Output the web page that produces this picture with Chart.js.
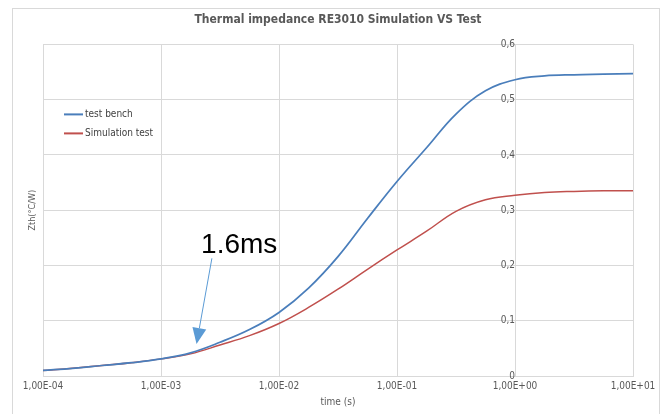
<!DOCTYPE html>
<html>
<head>
<meta charset="utf-8">
<script src="https://cdn.jsdelivr.net/npm/chart.js@4.4.1/dist/chart.umd.min.js"></script>
<style>
  body { margin: 0; background: #fff; }
  #frame { position: absolute; left: 12px; top: 8px; width: 646px; height: 420px; border: 1px solid #d9d9d9; }
  canvas { position: absolute; left: 0; top: 0; }
</style>
</head>
<body>
<div id="frame"></div>
<canvas id="zthChart" width="662" height="414"></canvas>
<script>
// time base (s), quarter decades
const timeSeconds = [1e-4, 1.78e-4, 3.16e-4, 5.62e-4, 1e-3, 1.78e-3, 3.16e-3, 5.62e-3,
  1e-2, 1.78e-2, 3.16e-2, 5.62e-2, 1e-1, 1.78e-1, 3.16e-1, 5.62e-1, 1, 1.78, 3.16, 5.62, 10];
// Zth in °C/W
const testBench = [0.010, 0.014, 0.019, 0.024, 0.031, 0.042, 0.061, 0.084,
  0.115, 0.159, 0.216, 0.285, 0.352, 0.413, 0.474, 0.516, 0.536, 0.543, 0.545, 0.546, 0.547];
const simulationTest = [0.010, 0.014, 0.019, 0.024, 0.031, 0.040, 0.056, 0.073,
  0.095, 0.124, 0.157, 0.193, 0.228, 0.262, 0.298, 0.319, 0.327, 0.332, 0.334, 0.335, 0.335];
const timeTicks = [1e-4, 1e-3, 1e-2, 1e-1, 1, 10];
const seriesLabels = ["test bench", "Simulation test"];
const chartTitle = "Thermal impedance RE3010 Simulation VS Test";
const xTitle = "time (s)";
const yTitle = "Zth(°C/W)";
const noteText = "1.6ms";

const NARROW = "'Liberation Sans Narrow', 'DejaVu Sans Condensed', sans-serif";
const GRID = "#d9d9d9";
const TEXT = "#595959";

// callout arrow and its text, in data units (time, Zth)
const noteArrow = { tail: [2.7e-3, 0.213], tip: [2.0e-3, 0.058] };
const notePos = [4.6e-3, 0.222];

function sciLabel(v) {
  const e = Math.round(Math.log10(v));
  return "1,00E" + (e < 0 ? "-" : "+") + String(Math.abs(e)).padStart(2, "0");
}

// y title, in-plot legend and the callout
const extras = {
  id: "extras",
  afterDatasetsDraw(chart) {
    const { ctx, chartArea: a, scales: { x, y } } = chart;

    ctx.save();
    ctx.fillStyle = TEXT;
    ctx.font = "9px " + NARROW;
    ctx.textAlign = "center";
    ctx.textBaseline = "middle";
    ctx.translate(a.left - 10, (a.top + a.bottom) / 2);
    ctx.rotate(-Math.PI / 2);
    ctx.fillText(yTitle, 0, 0);
    ctx.restore();

    ctx.save();
    chart.data.datasets.forEach((ds, i) => {
      const ly = a.top + 70 + i * 19;
      ctx.strokeStyle = ds.borderColor;
      ctx.lineWidth = 2;
      ctx.beginPath();
      ctx.moveTo(a.left + 21, ly);
      ctx.lineTo(a.left + 40, ly);
      ctx.stroke();
      ctx.fillStyle = "#404040";
      ctx.font = "10px " + NARROW;
      ctx.textBaseline = "middle";
      ctx.fillText(ds.label, a.left + 42, ly);
    });
    ctx.restore();

    const tx = x.getPixelForValue(noteArrow.tail[0]), ty = y.getPixelForValue(noteArrow.tail[1]);
    const px = x.getPixelForValue(noteArrow.tip[0]), py = y.getPixelForValue(noteArrow.tip[1]);
    const ang = Math.atan2(py - ty, px - tx);
    const headLen = 16, headHalf = 7;
    const bx = px - headLen * Math.cos(ang), by = py - headLen * Math.sin(ang);
    ctx.save();
    ctx.strokeStyle = "#5b9bd5";
    ctx.fillStyle = "#5b9bd5";
    ctx.lineWidth = 1;
    ctx.beginPath();
    ctx.moveTo(tx, ty);
    ctx.lineTo(bx, by);
    ctx.stroke();
    ctx.beginPath();
    ctx.moveTo(px, py);
    ctx.lineTo(bx + headHalf * Math.sin(ang), by - headHalf * Math.cos(ang));
    ctx.lineTo(bx - headHalf * Math.sin(ang), by + headHalf * Math.cos(ang));
    ctx.closePath();
    ctx.fill();

    ctx.fillStyle = "#000";
    ctx.font = "28px 'Liberation Sans', Arial, sans-serif";
    ctx.textAlign = "center";
    ctx.textBaseline = "alphabetic";
    ctx.fillText(noteText, x.getPixelForValue(notePos[0]), y.getPixelForValue(notePos[1]));
    ctx.restore();
  }
};

const ctx = document.getElementById("zthChart").getContext("2d");
new Chart(ctx, {
  type: "line",
  data: {
    datasets: [
      {
        label: seriesLabels[0],
        data: timeSeconds.map((t, i) => ({ x: t, y: testBench[i] })),
        borderColor: "#4a7ebb",
        borderWidth: 1.75,
        pointRadius: 0,
        tension: 0.4
      },
      {
        label: seriesLabels[1],
        data: timeSeconds.map((t, i) => ({ x: t, y: simulationTest[i] })),
        borderColor: "#c0504d",
        borderWidth: 1.5,
        pointRadius: 0,
        tension: 0.4
      }
    ]
  },
  options: {
    responsive: false,
    devicePixelRatio: 1,
    animation: false,
    layout: { padding: { left: 43, right: 29, top: 0, bottom: 6 } },
    scales: {
      x: {
        type: "logarithmic",
        min: 1e-4,
        max: 10,
        afterBuildTicks: s => { s.ticks = timeTicks.map(v => ({ value: v })); },
        ticks: { callback: v => sciLabel(v), color: TEXT, font: { size: 10, family: NARROW }, padding: 4, maxRotation: 0, autoSkip: false },
        grid: { color: GRID, drawTicks: false },
        border: { color: GRID },
        title: { display: true, text: xTitle, color: TEXT, font: { size: 10, family: NARROW }, padding: { top: 0, bottom: 0 } }
      },
      y: {
        min: 0,
        max: 0.6,
        position: { x: 1 },
        ticks: { stepSize: 0.1, callback: v => v === 0 ? "0" : v.toFixed(1).replace(".", ","), color: TEXT, font: { size: 10, family: NARROW }, padding: 4 },
        grid: { color: GRID, drawTicks: false },
        border: { display: false }
      }
    },
    plugins: {
      legend: { display: false },
      tooltip: { enabled: false },
      title: {
        display: true,
        text: chartTitle,
        color: TEXT,
        font: { size: 12, weight: "bold", family: NARROW },
        padding: { top: 13, bottom: 17 }
      }
    }
  },
  plugins: [extras]
});
</script>
</body>
</html>
